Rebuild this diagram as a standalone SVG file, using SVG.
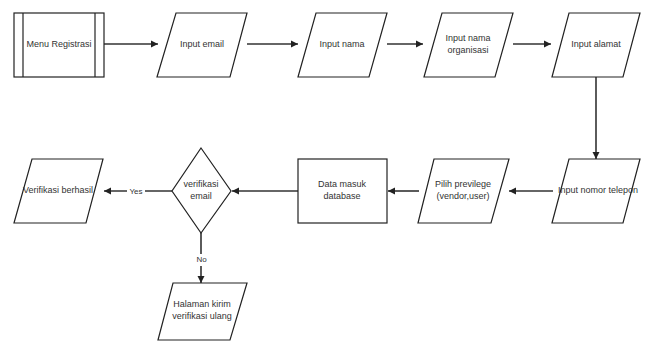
<svg xmlns="http://www.w3.org/2000/svg" width="647" height="347" viewBox="0 0 647 347">
<defs>
<marker id="ah" markerWidth="8" markerHeight="8" refX="7" refY="4" orient="auto" markerUnits="userSpaceOnUse">
<path d="M0,0.5 L7,4 L0,7.5 Z" fill="#222"/>
</marker>
<style>
.s{fill:#fff;stroke:#222;stroke-width:1.2}
.t{font-family:"Liberation Sans",Arial,sans-serif;font-size:9px;fill:#333;text-anchor:middle;dominant-baseline:middle}
.c{fill:none;stroke:#333;stroke-width:1.6;marker-end:url(#ah)}
.lb{fill:#fff}
</style>
</defs>
<rect width="647" height="347" fill="#fff"/>
<g id="connectors">
<line class="c" x1="104" y1="44" x2="158" y2="44"/>
<line class="c" x1="247" y1="44" x2="298" y2="44"/>
<line class="c" x1="387" y1="44" x2="423" y2="44"/>
<line class="c" x1="513" y1="44" x2="551" y2="44"/>
<line class="c" x1="596" y1="77" x2="596" y2="159"/>
<line class="c" x1="553" y1="191" x2="509" y2="191"/>
<line class="c" x1="419" y1="191" x2="388" y2="191"/>
<line class="c" x1="298" y1="191" x2="232" y2="191"/>
<line class="c" x1="172" y1="191" x2="104" y2="191"/>
<line class="c" x1="201" y1="233" x2="201" y2="283"/>
<rect class="lb" x="127" y="185" width="18" height="12"/>
<text class="t" x="136" y="191.5" style="font-size:8px">Yes</text>
<rect class="lb" x="195" y="254" width="13" height="12"/>
<text class="t" x="201.5" y="260" style="font-size:8px">No</text>
</g>
<g id="menu-registrasi">
<rect class="s" x="14" y="13" width="90" height="64"/>
<line class="s" x1="23" y1="13" x2="23" y2="77"/>
<line class="s" x1="95" y1="13" x2="95" y2="77"/>
<text class="t" x="59" y="45">Menu Registrasi</text>
</g>
<g id="input-email">
<polygon class="s" points="176,13 247,13 230,77 157,77"/>
<text class="t" x="202" y="45">Input email</text>
</g>
<g id="input-nama">
<polygon class="s" points="316,13 387,13 369,77 298,77"/>
<text class="t" x="342" y="45">Input nama</text>
</g>
<g id="input-nama-organisasi">
<polygon class="s" points="442,13 513,13 495,77 424,77"/>
<text class="t" x="468" y="39">Input nama</text>
<text class="t" x="468" y="51">organisasi</text>
</g>
<g id="input-alamat">
<polygon class="s" points="569,13 640,13 623,77 552,77"/>
<text class="t" x="596" y="45">Input alamat</text>
</g>
<g id="input-nomor-telepon">
<polygon class="s" points="569,159 640,159 623,223 552,223"/>
<text class="t" x="598" y="191">Input nomor telepon</text>
</g>
<g id="pilih-previlege">
<polygon class="s" points="434,159 509,159 491,223 418,223"/>
<text class="t" x="463" y="185">Pilih previlege</text>
<text class="t" x="463" y="197">(vendor,user)</text>
</g>
<g id="data-masuk-database">
<rect class="s" x="298" y="159" width="89" height="64"/>
<text class="t" x="342" y="185">Data masuk</text>
<text class="t" x="342" y="197">database</text>
</g>
<g id="verifikasi-email">
<polygon class="s" points="201,148 231,191 201,233 172,191"/>
<text class="t" x="201" y="185">verifikasi</text>
<text class="t" x="201" y="197">email</text>
</g>
<g id="verifikasi-berhasil">
<polygon class="s" points="32,159 103,159 86,223 14,223"/>
<text class="t" x="58" y="191">Verifikasi berhasil</text>
</g>
<g id="halaman-kirim">
<polygon class="s" points="173,283 247,283 230,340 158,340"/>
<text class="t" x="202" y="305">Halaman kirim</text>
<text class="t" x="202" y="317">verifikasi ulang</text>
</g>
</svg>
